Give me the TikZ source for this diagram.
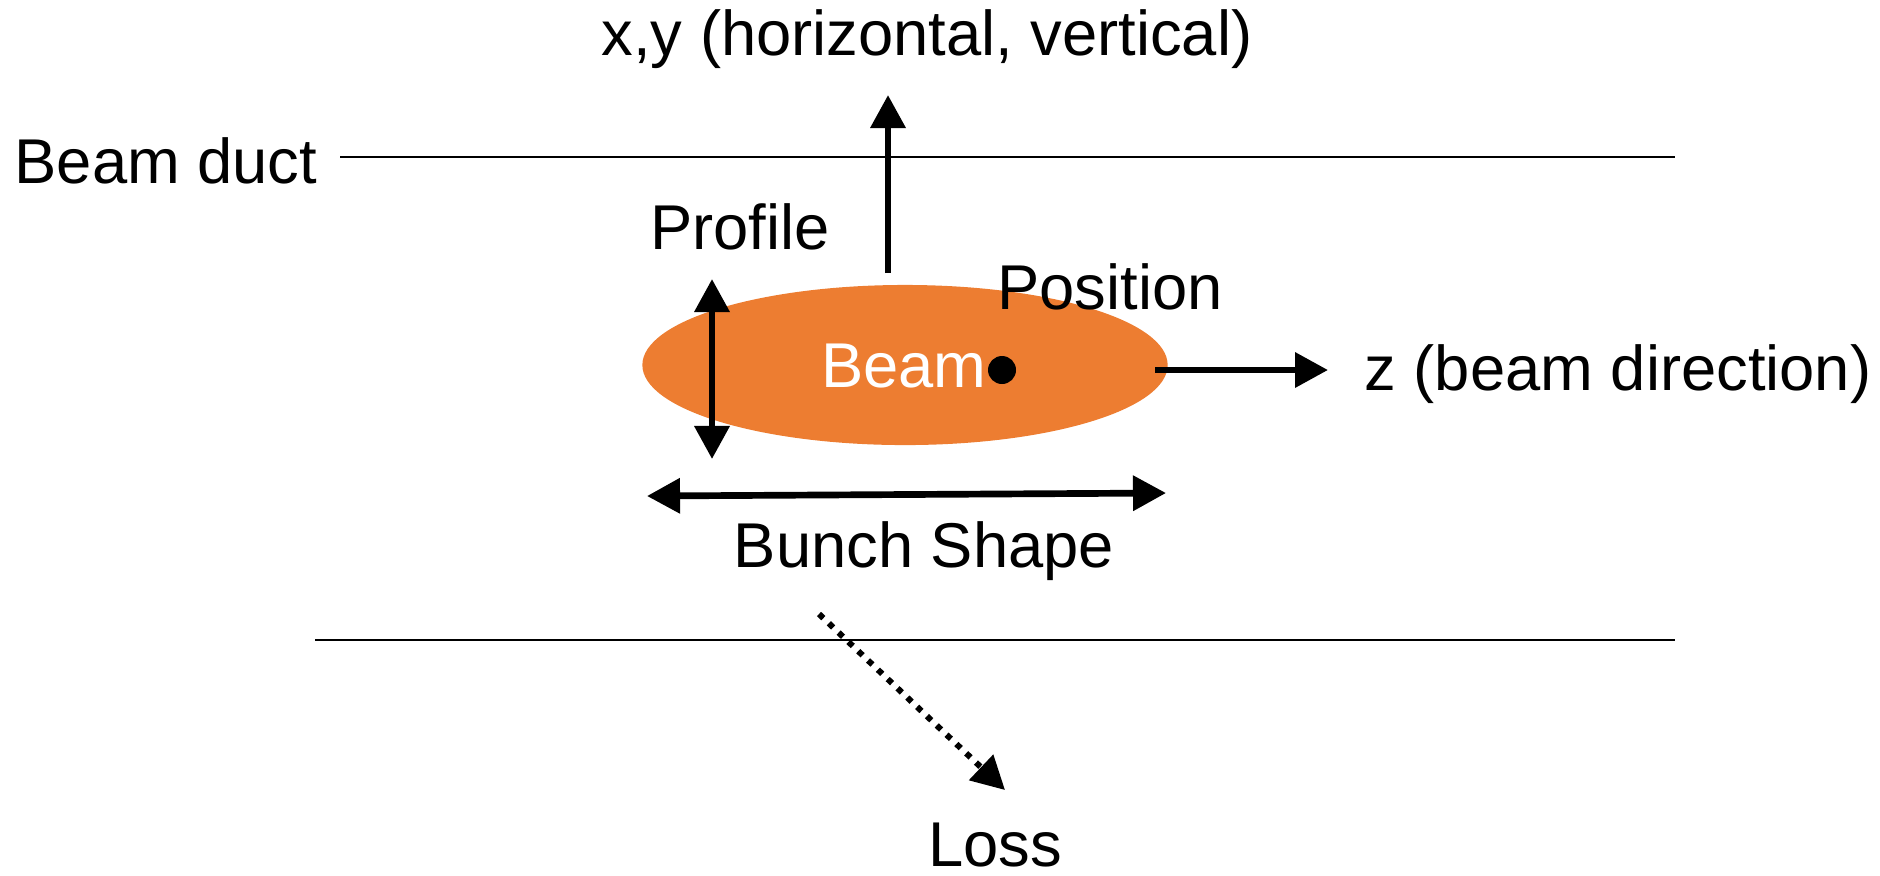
\documentclass[tikz,border=0pt]{standalone}
\usepackage{fontspec}
\setmainfont{Liberation Sans}
\usetikzlibrary{arrows.meta,shapes.geometric}
\definecolor{beamorange}{HTML}{ED7D31}
\begin{document}
\begin{tikzpicture}[x=0.01cm,y=-0.01cm,
  lbl/.style={inner sep=0pt,font=\fontsize{18pt}{21pt}\selectfont},
  duct/.style={line width=0.6pt},
  head/.tip={Triangle[width=0.34cm,length=0.33cm]},
  arr/.style={line width=1.9pt,-head},
  darr/.style={line width=1.9pt,head-head},
  lossarr/.style={line width=1.7pt,line cap=butt,dash pattern=on 0.06cm off 0.075cm,-head}]
\useasboundingbox (0,0) rectangle (1880,875);
% beam duct walls
\coordinate (ductTL) at (340,157);
\coordinate (ductTR) at (1675,157);
\coordinate (ductBL) at (315,640);
\coordinate (ductBR) at (1675,640);
\draw[duct] (ductTL) -- (ductTR);
\draw[duct] (ductBL) -- (ductBR);
% beam
\node[ellipse,fill=beamorange,minimum width=5.25cm,minimum height=1.6cm,inner sep=0pt] (beam) at (905,365) {};
% arrows
\coordinate (upS) at (888,273);
\coordinate (upE) at (888,95);
\draw[arr] (upS) -- (upE);
\coordinate (profT) at (712,279);
\coordinate (profB) at (712,459);
\draw[darr] (profB) -- (profT);
\coordinate (bunchL) at (647,496);
\coordinate (bunchR) at (1166,493);
\draw[darr] (bunchL) -- (bunchR);
\coordinate (zS) at (1155,370);
\coordinate (zE) at (1328,370);
\draw[arr] (zS) -- (zE);
\coordinate (lossS) at (819,614);
\coordinate (lossE) at (1005,790);
\draw[lossarr] (lossS) -- (lossE);
% labels
\node[lbl,anchor=base] (xy) at (927,55) {x,y (horizontal, vertical)};
\node[lbl,anchor=base west] (ductlbl) at (14,183) {Beam duct};
\node[lbl,anchor=base] (profile) at (740,249) {Profile};
\node[lbl,anchor=base] (position) at (1110,309) {Position};
\node[lbl,anchor=base,text=white] (beamlbl) at (904,387) {Beam};
\node[lbl,anchor=base west] (zlbl) at (1364,390) {z (beam direction)};
\node[lbl,anchor=base] (bunch) at (924,567) {Bunch Shape};
\node[lbl,anchor=base] (loss) at (995,866) {Loss};
% position dot
\fill (1002,370) circle[radius=14];
\end{tikzpicture}
\end{document}
